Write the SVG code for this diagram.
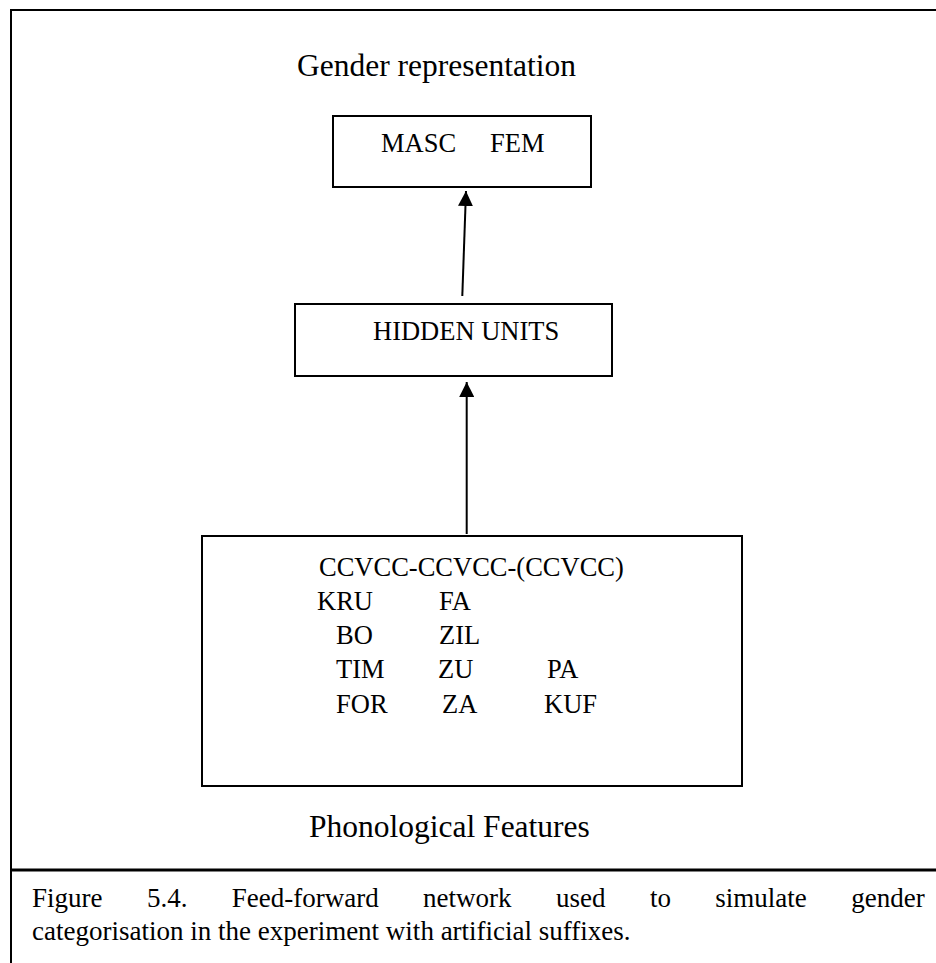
<svg xmlns="http://www.w3.org/2000/svg" width="936" height="963" viewBox="0 0 936 963">
<style>
.t{font-family:"Liberation Serif","Times New Roman",serif;fill:#000}
.box{fill:none;stroke:#000;stroke-width:2}
.ln{stroke:#000;stroke-width:2;fill:none}
.b{font-size:26.5px}
.h{font-size:31.5px}
.c{font-size:27px}
</style>
<defs>
<marker id="ah" viewBox="0 0 10 10" refX="10" refY="5" markerWidth="15" markerHeight="15" markerUnits="userSpaceOnUse" orient="auto">
<path d="M0,0 L10,5 L0,10 z" fill="#000"/>
</marker>
</defs>
<rect width="936" height="963" fill="#fff"/>
<g id="frame">
<path class="ln" d="M940,10 H11 V963" stroke-width="2.5"/>
<line x1="11" y1="870" x2="936" y2="870" stroke="#000" stroke-width="3"/>
</g>
<g id="title"><text class="t h" x="297" y="76">Gender representation</text></g>
<g id="output">
<rect class="box" x="333" y="116" width="258" height="71"/>
<text class="t b" x="381" y="152">MASC</text>
<text class="t b" x="490" y="152">FEM</text>
</g>
<g id="hidden">
<rect class="box" x="295" y="304" width="317" height="72"/>
<text class="t b" x="373" y="340">HIDDEN UNITS</text>
</g>
<g id="input">
<rect class="box" x="202" y="536" width="540" height="250"/>
<text class="t b" x="319" y="576">CCVCC-CCVCC-(CCVCC)</text>
<text class="t b" x="317" y="610">KRU</text>
<text class="t b" x="439" y="610">FA</text>
<text class="t b" x="336" y="644">BO</text>
<text class="t b" x="439" y="644">ZIL</text>
<text class="t b" x="336" y="678">TIM</text>
<text class="t b" x="438" y="678">ZU</text>
<text class="t b" x="547" y="678">PA</text>
<text class="t b" x="336" y="713">FOR</text>
<text class="t b" x="442" y="713">ZA</text>
<text class="t b" x="544" y="713">KUF</text>
</g>
<g id="input-label"><text class="t h" x="309" y="837">Phonological Features</text></g>
<g id="connectors">
<line class="ln" x1="462.3" y1="296" x2="466" y2="191" marker-end="url(#ah)"/>
<line class="ln" x1="466.7" y1="534" x2="466.7" y2="382" marker-end="url(#ah)"/>
</g>
<g id="caption">
<text class="t c" y="907"><tspan x="32">Figure</tspan><tspan x="146.9">5.4.</tspan><tspan x="231.8">Feed-forward</tspan><tspan x="423.1">network</tspan><tspan x="556">used</tspan><tspan x="649.9">to</tspan><tspan x="715.3">simulate</tspan><tspan x="851.2">gender</tspan></text>
<text class="t c" x="32" y="940">categorisation in the experiment with artificial suffixes.</text>
</g>
</svg>
